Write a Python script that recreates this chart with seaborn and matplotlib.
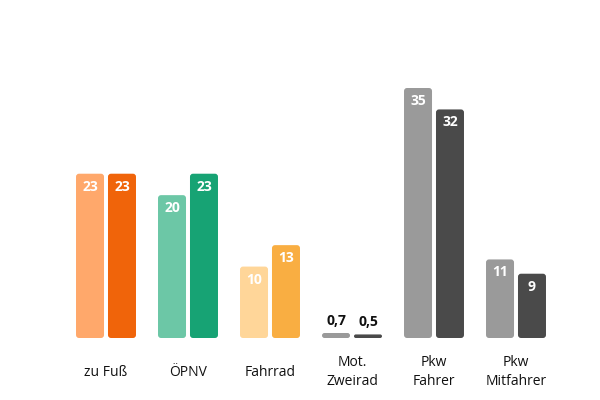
import pandas as pd
import matplotlib.pyplot as plt
import seaborn as sns
from matplotlib.patches import FancyBboxPatch

sns.set_theme(style='white')
plt.rcParams['font.family'] = ['Open Sans', 'DejaVu Sans']

categories = ['zu Fuß', 'ÖPNV', 'Fahrrad', 'Mot.\nZweirad', 'Pkw\nFahrer', 'Pkw\nMitfahrer']
series_a = [23, 20, 10, 0.7, 35, 11]
series_b = [23, 23, 13, 0.5, 32, 9]
labels_a = ['23', '20', '10', '0,7', '35', '11']
labels_b = ['23', '23', '13', '0,5', '32', '9']
colors_a = ['#FFA86B', '#6CC7A6', '#FFD699', '#9A9A9A', '#9A9A9A', '#9A9A9A']
colors_b = ['#F0640A', '#17A374', '#F9AE42', '#4A4A4A', '#4A4A4A', '#4A4A4A']

df = pd.DataFrame({
    'cat': categories * 2,
    'val': series_a + series_b,
    'grp': ['a'] * 6 + ['b'] * 6,
})

fig = plt.figure(figsize=(6, 4), dpi=100)
ax = fig.add_axes([0, 0, 1, 1])
sns.barplot(data=df, x='cat', y='val', hue='grp', order=categories, width=0.78,
            legend=False, ax=ax)

px_x = 82.0
px_y = 250 / 35.0
ax.set_xlim(-106 / px_x, (600 - 106) / px_x)
ax.set_ylim(-62 / px_y, (400 - 62) / px_y)
ax.axis('off')

patches = sorted(list(ax.patches), key=lambda p: p.get_x())
vals, labs, cols = [], [], []
for a, b, la, lb, ca, cb in zip(series_a, series_b, labels_a, labels_b, colors_a, colors_b):
    vals += [a, b]; labs += [la, lb]; cols += [ca, cb]

bw = 28 / px_x
for p, v, lab, c in zip(patches, vals, labs, cols):
    xc = p.get_x() + p.get_width() / 2
    p.remove()
    r = min(3 / px_x, v * px_y / px_x / 2)
    box = FancyBboxPatch((xc - bw / 2, 0), bw, v,
                         boxstyle=f'round,pad=0,rounding_size={r}',
                         mutation_aspect=px_x / px_y, facecolor=c, edgecolor='none')
    ax.add_patch(box)
    if v > 3:
        ax.text(xc, v - 13 / px_y, lab, ha='center', va='center', color='white',
                fontsize=10, fontweight='bold')
    else:
        ax.text(xc, v + 12 / px_y, lab, ha='center', va='center', color='#111111',
                fontsize=10, fontweight='bold')

for i, cat in enumerate(categories):
    ax.text(i, -34 / px_y, cat, ha='center', va='center', fontsize=10,
            color='#111111', linespacing=1.4)

fig.savefig('out.png', dpi=100)
